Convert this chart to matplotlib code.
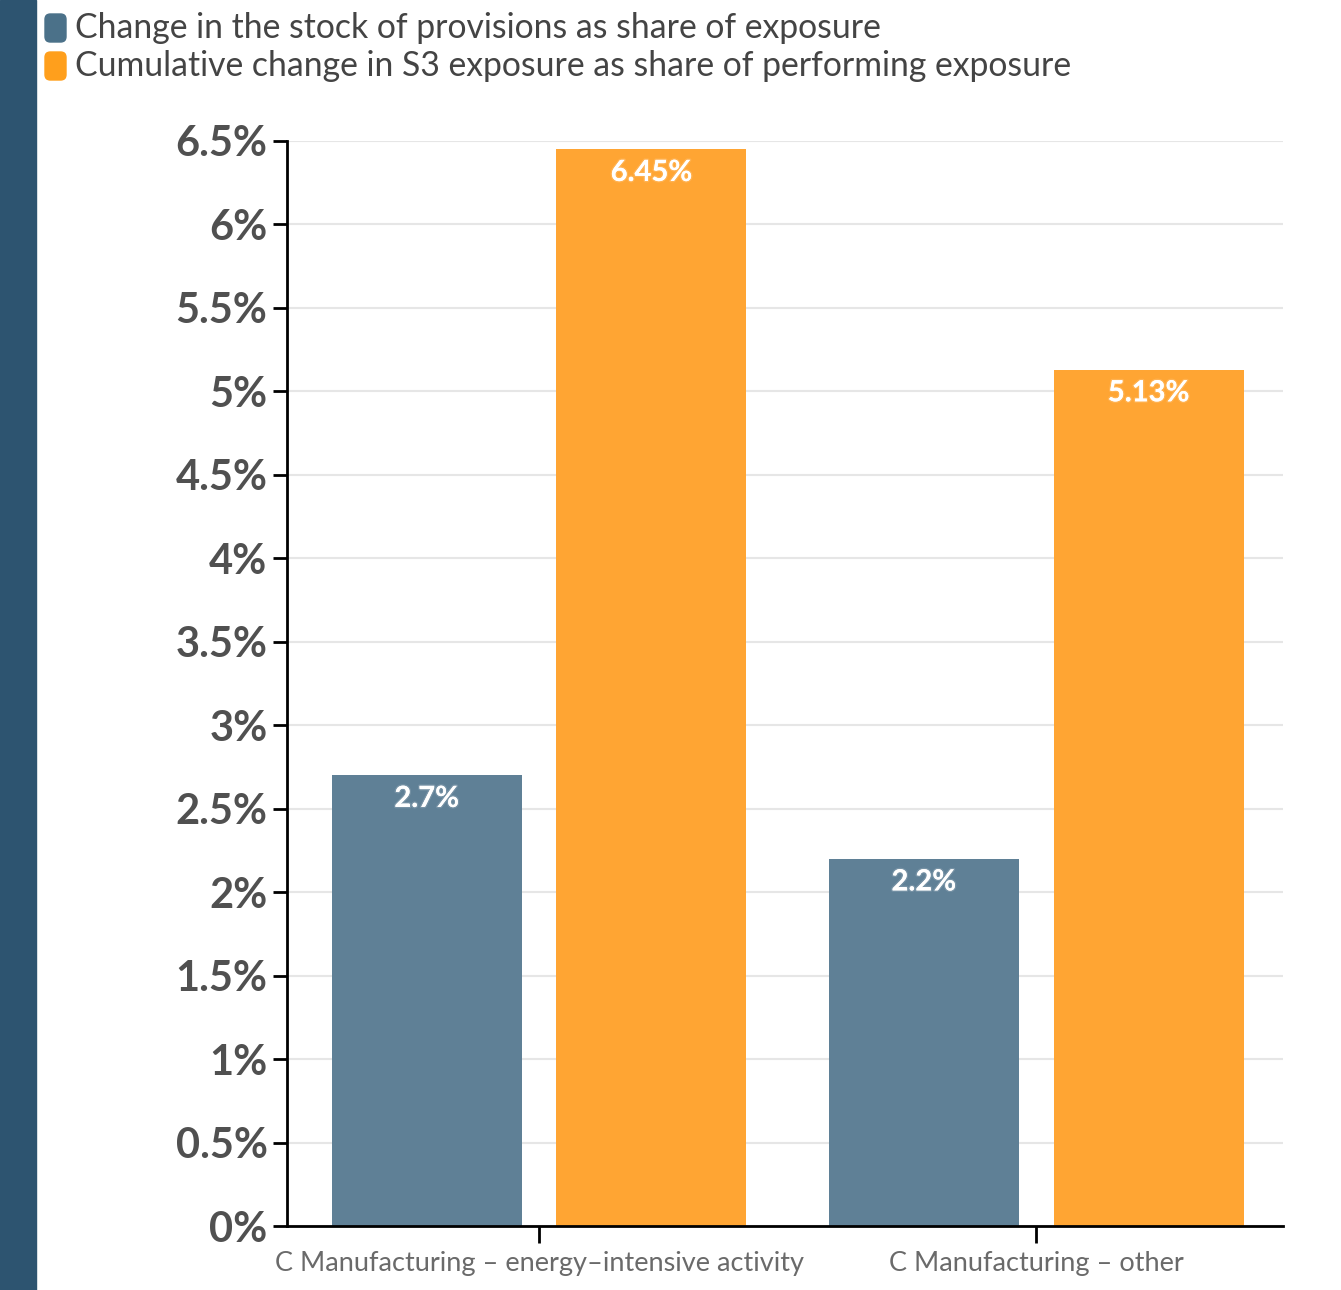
import matplotlib
matplotlib.use("Agg")
import matplotlib.pyplot as plt
import matplotlib.patheffects as pe
from matplotlib.patches import Rectangle, FancyBboxPatch
import numpy as np

plt.rcParams['font.family'] = ['Lato', 'DejaVu Sans']

categories = ["C Manufacturing – energy–intensive activity", "C Manufacturing – other"]
provisions = [2.7, 2.2]
s3_exposure = [6.45, 5.13]
provisions_labels = ["2.7%", "2.2%"]
s3_labels = ["6.45%", "5.13%"]
series_names = ["Change in the stock of provisions as share of exposure",
                "Cumulative change in S3 exposure as share of performing exposure"]
yticks = [0, 0.5, 1, 1.5, 2, 2.5, 3, 3.5, 4, 4.5, 5, 5.5, 6, 6.5]
ytick_labels = ["0%", "0.5%", "1%", "1.5%", "2%", "2.5%", "3%", "3.5%", "4%",
                "4.5%", "5%", "5.5%", "6%", "6.5%"]

blue = "#5f8096"
orange = "#ffa533"
legend_blue = "#4b7189"
legend_orange = "#ff9f1c"

fig = plt.figure(figsize=(13.41, 12.9), dpi=100)
ax = fig.add_axes([0.214, 0.0496, 0.743, 0.8411])

# left band
fig.patches.append(Rectangle((0, 0), 36 / 1341, 1, transform=fig.transFigure,
                             color="#2d5470", zorder=0))

x = np.arange(len(categories))
w = 0.382
off = 0.226
b1 = ax.bar(x - off, provisions, w, color=blue, zorder=3)
b2 = ax.bar(x + off, s3_exposure, w, color=orange, zorder=3)

glow = [pe.withStroke(linewidth=2, foreground=(1, 1, 1, 0.15))]
for bars, labels in ((b1, provisions_labels), (b2, s3_labels)):
    for rect, lab in zip(bars, labels):
        ax.annotate(lab, (rect.get_x() + rect.get_width() / 2, rect.get_height()),
                    xytext=(0, -17), textcoords="offset points", ha="center", va="center",
                    color="white", fontsize=21, fontweight="bold", zorder=4,
                    path_effects=glow)

ax.set_xlim(-0.507, 1.497)
ax.set_ylim(0, 6.5)
ax.set_yticks(yticks)
ax.set_yticklabels(ytick_labels, fontsize=30, fontweight="bold", color="#505050")
ax.set_xticks(x)
ax.set_xticklabels(categories, fontsize=19.5, color="#6a6a6a")
ax.tick_params(axis="y", length=10, width=2, color="black", pad=4)
ax.tick_params(axis="x", length=12, width=2, color="black", pad=6)
ax.grid(axis="y", color="#e6e6e6", linewidth=1.5, zorder=0)
ax.set_axisbelow(True)
for s in ("top", "right"):
    ax.spines[s].set_visible(False)
for s in ("left", "bottom"):
    ax.spines[s].set_linewidth(2)
    ax.spines[s].set_zorder(5)

# legend
for i, (name, col) in enumerate(zip(series_names, [legend_blue, legend_orange])):
    yc = 1 - (28 + 38 * i) / 1290
    fig.patches.append(FancyBboxPatch((45 / 1341, yc - 14 / 1290), 21 / 1341, 28 / 1290,
                                      boxstyle="round,pad=0,rounding_size=0.004",
                                      transform=fig.transFigure, color=col,
                                      mutation_aspect=1341 / 1290))
    fig.text(75 / 1341, yc, name, fontsize=24.3, color="#444444", va="center", ha="left")

fig.savefig("out.png", dpi=100)
